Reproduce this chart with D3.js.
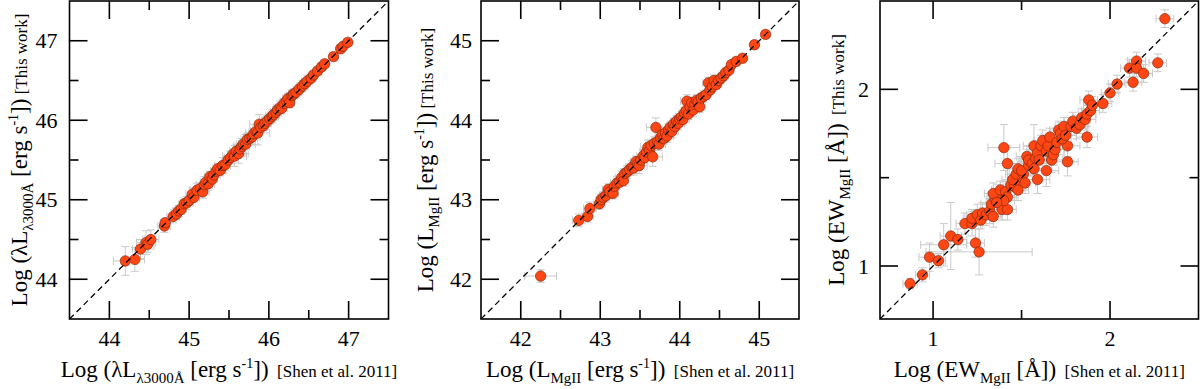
<!DOCTYPE html>
<meta charset="utf-8">
<title>Shen et al. 2011 vs this work</title>
<script src="https://d3js.org/d3.v7.min.js"></script>
<style>
  body { margin: 0; background: #fff; }
  text { font-family: "Liberation Serif", "DejaVu Serif", serif; fill: #000; white-space: pre; }
</style>
<body>
<div id="chart"></div>
<script>

// [x (Shen et al. 2011), y (this work), x error, y error]
var lum3000Points = [
  [44.20,44.23,0.15,0.18],[44.32,44.25,0.12,0.15],[44.39,44.38,0.10,0.12],[44.46,44.46,0.12,0.15],
  [44.48,44.44,0.08,0.10],[44.52,44.50,0.10,0.12],[44.69,44.67,0.08,0.08],[44.70,44.71,0.06,0.06],
  [44.80,44.79,0.08,0.08],[44.84,44.82,0.06,0.07],[44.87,44.86,0.07,0.07],[44.90,44.88,0.06,0.06],
  [44.94,44.95,0.07,0.07],[44.97,44.96,0.08,0.08],[45.00,44.99,0.06,0.06],[45.04,45.07,0.08,0.08],
  [45.06,45.03,0.07,0.06],[45.10,45.12,0.09,0.09],[45.14,45.14,0.07,0.07],[45.17,45.10,0.08,0.08],
  [45.19,45.19,0.10,0.10],[45.21,45.22,0.07,0.07],[45.24,45.20,0.08,0.08],[45.26,45.29,0.07,0.07],
  [45.29,45.26,0.06,0.06],[45.31,45.31,0.08,0.08],[45.34,45.36,0.07,0.07],[45.36,45.39,0.06,0.06],
  [45.39,45.37,0.07,0.07],[45.42,45.43,0.10,0.10],[45.45,45.44,0.07,0.07],[45.49,45.50,0.06,0.06],
  [45.52,45.53,0.08,0.08],[45.55,45.57,0.07,0.07],[45.57,45.55,0.15,0.13],[45.59,45.61,0.08,0.08],
  [45.62,45.58,0.12,0.12],[45.64,45.64,0.07,0.07],[45.66,45.67,0.10,0.10],[45.68,45.70,0.06,0.06],
  [45.71,45.70,0.12,0.12],[45.73,45.76,0.08,0.08],[45.76,45.77,0.07,0.07],[45.79,45.79,0.10,0.10],
  [45.81,45.83,0.06,0.06],[45.84,45.86,0.07,0.07],[45.86,45.84,0.15,0.15],[45.88,45.95,0.12,0.12],
  [45.90,45.91,0.07,0.07],[45.93,45.93,0.06,0.06],[45.95,45.96,0.08,0.08],[45.98,45.99,0.07,0.07],
  [46.01,46.02,0.06,0.06],[46.04,46.05,0.08,0.08],[46.06,46.07,0.07,0.07],[46.09,46.10,0.07,0.07],
  [46.11,46.13,0.06,0.06],[46.14,46.16,0.08,0.08],[46.16,46.15,0.07,0.07],[46.19,46.21,0.06,0.06],
  [46.22,46.24,0.08,0.08],[46.24,46.27,0.07,0.07],[46.26,46.22,0.06,0.06],[46.29,46.31,0.07,0.07],
  [46.31,46.33,0.06,0.06],[46.34,46.35,0.07,0.07],[46.38,46.39,0.06,0.06],[46.42,46.43,0.07,0.07],
  [46.45,46.46,0.06,0.06],[46.48,46.49,0.07,0.07],[46.53,46.53,0.06,0.06],[46.56,46.57,0.05,0.05],
  [46.61,46.62,0.05,0.05],[46.66,46.67,0.05,0.05],[46.70,46.71,0.05,0.05],[46.81,46.80,0.05,0.05],
  [46.90,46.90,0.05,0.05],[46.93,46.93,0.04,0.04],[46.99,46.98,0.05,0.05]
];

var lumMgIIPoints = [
  [42.25,42.04,0.20,0.08],[42.73,42.74,0.08,0.08],[42.84,42.79,0.07,0.07],[42.87,42.89,0.08,0.08],
  [42.99,42.95,0.07,0.07],[43.01,43.00,0.06,0.06],[43.04,43.03,0.07,0.07],[43.07,43.05,0.08,0.08],
  [43.10,43.13,0.07,0.07],[43.12,43.10,0.08,0.08],[43.16,43.08,0.07,0.07],[43.18,43.17,0.06,0.06],
  [43.21,43.21,0.08,0.08],[43.24,43.22,0.07,0.07],[43.27,43.28,0.08,0.08],[43.29,43.24,0.07,0.07],
  [43.31,43.33,0.06,0.06],[43.34,43.35,0.08,0.08],[43.37,43.38,0.07,0.07],[43.40,43.41,0.08,0.08],
  [43.42,43.40,0.09,0.09],[43.45,43.48,0.07,0.07],[43.47,43.45,0.08,0.08],[43.49,43.43,0.10,0.10],
  [43.51,43.50,0.07,0.07],[43.54,43.55,0.08,0.08],[43.56,43.53,0.07,0.07],[43.58,43.60,0.08,0.08],
  [43.60,43.66,0.09,0.09],[43.62,43.62,0.07,0.07],[43.64,43.68,0.07,0.07],[43.66,43.54,0.12,0.12],
  [43.68,43.71,0.08,0.08],[43.70,43.91,0.12,0.12],[43.72,43.73,0.07,0.07],[43.74,43.70,0.08,0.08],
  [43.76,43.78,0.07,0.07],[43.78,43.82,0.08,0.08],[43.80,43.77,0.07,0.07],[43.82,43.84,0.06,0.06],
  [43.84,43.80,0.08,0.08],[43.86,43.88,0.07,0.07],[43.88,43.91,0.06,0.06],[43.90,43.86,0.08,0.08],
  [43.92,43.95,0.07,0.07],[43.94,43.92,0.06,0.06],[43.96,43.99,0.07,0.07],[43.98,43.96,0.08,0.08],
  [44.00,44.02,0.06,0.06],[44.02,44.04,0.07,0.07],[44.04,44.01,0.08,0.08],[44.06,44.09,0.07,0.07],
  [44.08,44.12,0.06,0.06],[44.09,44.24,0.08,0.08],[44.11,44.08,0.07,0.07],[44.13,44.17,0.06,0.06],
  [44.15,44.22,0.07,0.07],[44.17,44.13,0.08,0.08],[44.19,44.20,0.06,0.06],[44.21,44.25,0.07,0.07],
  [44.23,44.23,0.06,0.06],[44.25,44.17,0.07,0.07],[44.27,44.28,0.06,0.06],[44.30,44.30,0.07,0.07],
  [44.33,44.32,0.06,0.06],[44.36,44.47,0.07,0.07],[44.38,44.38,0.06,0.06],[44.41,44.42,0.06,0.06],
  [44.43,44.50,0.07,0.07],[44.46,44.45,0.06,0.06],[44.49,44.50,0.06,0.06],[44.52,44.53,0.06,0.06],
  [44.55,44.56,0.06,0.06],[44.58,44.60,0.06,0.06],[44.62,44.63,0.05,0.05],[44.65,44.70,0.05,0.05],
  [44.71,44.74,0.05,0.05],[44.79,44.78,0.05,0.05],[44.94,44.95,0.05,0.05],[45.08,45.08,0.05,0.05]
];

var ewMgIIPoints = [
  [0.87,0.90,0.04,0.03],[0.94,0.95,0.04,0.04],[0.98,1.05,0.06,0.08],[1.03,1.03,0.04,0.04],
  [1.06,1.12,0.13,0.12],[1.10,1.17,0.06,0.19],[1.14,1.15,0.05,0.06],[1.18,1.24,0.05,0.06],
  [1.22,1.24,0.06,0.07],[1.24,1.13,0.05,0.08],[1.26,1.08,0.30,0.13],[1.22,1.27,0.05,0.05],
  [1.25,1.29,0.06,0.06],[1.27,1.26,0.05,0.05],[1.28,1.30,0.05,0.06],[1.30,1.29,0.08,0.06],
  [1.32,1.31,0.06,0.07],[1.34,1.28,0.05,0.06],[1.39,1.32,0.06,0.06],[1.42,1.32,0.05,0.06],
  [1.33,1.35,0.06,0.06],[1.35,1.38,0.05,0.05],[1.37,1.40,0.06,0.06],[1.34,1.41,0.05,0.06],
  [1.38,1.43,0.05,0.05],[1.41,1.42,0.06,0.06],[1.42,1.39,0.05,0.06],[1.40,1.37,0.06,0.07],
  [1.36,1.36,0.05,0.05],[1.44,1.46,0.06,0.06],[1.46,1.45,0.06,0.06],[1.48,1.47,0.05,0.05],
  [1.48,1.43,0.06,0.06],[1.45,1.49,0.06,0.06],[1.47,1.52,0.06,0.06],[1.48,1.55,0.05,0.06],
  [1.51,1.52,0.06,0.07],[1.52,1.47,0.06,0.06],[1.50,1.54,0.05,0.05],[1.53,1.62,0.06,0.06],
  [1.54,1.57,0.06,0.06],[1.54,1.60,0.05,0.06],[1.56,1.58,0.06,0.07],[1.57,1.55,0.06,0.06],
  [1.59,1.49,0.07,0.08],[1.58,1.61,0.06,0.06],[1.57,1.68,0.06,0.12],[1.59,1.64,0.05,0.06],
  [1.60,1.60,0.06,0.06],[1.61,1.68,0.06,0.06],[1.62,1.71,0.05,0.06],[1.64,1.65,0.06,0.07],
  [1.64,1.54,0.07,0.09],[1.65,1.68,0.05,0.06],[1.66,1.73,0.05,0.05],[1.67,1.60,0.06,0.07],
  [1.68,1.63,0.06,0.06],[1.69,1.66,0.05,0.05],[1.70,1.70,0.06,0.06],[1.71,1.77,0.05,0.05],
  [1.72,1.75,0.06,0.06],[1.40,1.67,0.09,0.13],[1.42,1.58,0.07,0.10],[1.76,1.68,0.07,0.06],
  [1.76,1.59,0.06,0.08],[1.73,1.72,0.05,0.06],[1.74,1.79,0.05,0.05],[1.75,1.74,0.06,0.06],
  [1.78,1.79,0.06,0.05],[1.79,1.82,0.05,0.05],[1.81,1.78,0.06,0.06],[1.83,1.80,0.05,0.05],
  [1.84,1.84,0.05,0.05],[1.86,1.83,0.06,0.06],[1.87,1.86,0.05,0.05],[1.87,1.73,0.06,0.06],
  [1.88,1.94,0.05,0.05],[1.89,1.88,0.05,0.05],[1.90,1.91,0.05,0.05],[1.96,1.92,0.05,0.05],
  [2.00,1.98,0.05,0.05],[2.04,2.03,0.05,0.05],[2.11,2.12,0.05,0.05],[2.13,2.04,0.05,0.05],
  [2.15,2.16,0.05,0.05],[2.15,2.12,0.05,0.05],[2.19,2.09,0.05,0.05],[2.27,2.15,0.05,0.05],
  [2.31,2.40,0.05,0.05]
];

var lum3000Ticks = [44, 45, 46, 47],  lum3000Minor = [44.5, 45.5, 46.5];
var lumMgIITicks = [42, 43, 44, 45],  lumMgIIMinor = [42.5, 43.5, 44.5];
var ewMgIITicks  = [1, 2],            ewMgIIMinor  = [1.5];

// title pieces: [text, font size, vertical shift]
var lum3000Title = [["Log (λL",23,0],["λ3000Å",15,6],[" [erg s",23,0],["-1",14,-9],["])",23,0]];
var lumMgIITitle = [["Log (L",23,0],["MgII",15,6],[" [erg s",23,0],["-1",14,-9],["])",23,0]];
var ewMgIITitle  = [["Log (EW",23,0],["MgII",15,6],[" [Å])",23,0]];

var panels = [
  {pts: lum3000Points, dom: [43.5, 47.5], ticks: lum3000Ticks, minor: lum3000Minor, title: lum3000Title,
   left: 69.5, right: 388.5, ytitleX: 27, ylabelGap: 12, ynote: " [This work]"},
  {pts: lumMgIIPoints, dom: [41.5, 45.5], ticks: lumMgIITicks, minor: lumMgIIMinor, title: lumMgIITitle,
   left: 481, right: 799, ytitleX: 433, ylabelGap: 9, ynote: " [This work]"},
  {pts: ewMgIIPoints, dom: [0.7, 2.5], ticks: ewMgIITicks, minor: ewMgIIMinor, title: ewMgIITitle,
   left: 880, right: 1198.5, ytitleX: 844, ylabelGap: 11, ynote: "  [This work]"}
];

var plotTop = 1, plotBottom = 319;

var svg = d3.select("#chart").append("svg")
    .attr("width", 1200)
    .attr("height", 389);

function addTitle(g, pieces, note, attrs) {
  var t = g.append("text").attr("text-anchor", "middle");
  for (var k in attrs) t.attr(k, attrs[k]);
  var shift = 0;
  pieces.forEach(function(p) {
    t.append("tspan").text(p[0]).attr("font-size", p[1]).attr("dy", p[2] - shift);
    shift = p[2];
  });
  t.append("tspan").text(note).attr("font-size", 17).attr("dy", -shift);
  return t;
}

panels.forEach(function(p, i) {
  var x = d3.scaleLinear().domain(p.dom).range([p.left, p.right]);
  var y = d3.scaleLinear().domain(p.dom).range([plotBottom, plotTop]);
  var g = svg.append("g");

  g.append("clipPath").attr("id", "clip" + i)
    .append("rect")
      .attr("x", p.left).attr("y", plotTop)
      .attr("width", p.right - p.left).attr("height", plotBottom - plotTop);

  var plot = g.append("g").attr("clip-path", "url(#clip" + i + ")");

  // error bars
  var eb = plot.append("g").attr("stroke", "#c9c9c9").attr("stroke-width", 1).attr("fill", "none");
  p.pts.forEach(function(d) {
    var cx = x(d[0]), cy = y(d[1]);
    var x0 = x(d[0] - d[2]), x1 = x(d[0] + d[2]);
    var y0 = y(d[1] - d[3]), y1 = y(d[1] + d[3]);
    eb.append("path").attr("d",
      "M" + x0 + "," + cy + "H" + x1 +
      "M" + x0 + "," + (cy - 4) + "V" + (cy + 4) +
      "M" + x1 + "," + (cy - 4) + "V" + (cy + 4) +
      "M" + cx + "," + y0 + "V" + y1 +
      "M" + (cx - 4) + "," + y0 + "H" + (cx + 4) +
      "M" + (cx - 4) + "," + y1 + "H" + (cx + 4));
  });

  plot.selectAll("circle.pt")
    .data(p.pts)
    .enter()
    .append("circle")
      .attr("class", "pt")
      .attr("cx", function(d) { return x(d[0]); })
      .attr("cy", function(d) { return y(d[1]); })
      .attr("r", 5.2)
      .attr("fill", "#ff4613")
      .attr("stroke", "#8a2a10")
      .attr("stroke-width", 0.7);

  // one-to-one line
  plot.append("line")
    .attr("x1", x(p.dom[0])).attr("y1", y(p.dom[0]))
    .attr("x2", x(p.dom[1])).attr("y2", y(p.dom[1]))
    .attr("stroke", "#000").attr("stroke-width", 1.3)
    .attr("stroke-dasharray", "6,4");

  // ticks on all four sides
  var tk = g.append("g").attr("stroke", "#000").attr("stroke-width", 1.6);
  function ticks(vals, len) {
    vals.forEach(function(v) {
      tk.append("line").attr("x1", x(v)).attr("x2", x(v)).attr("y1", plotBottom).attr("y2", plotBottom - len);
      tk.append("line").attr("x1", x(v)).attr("x2", x(v)).attr("y1", plotTop).attr("y2", plotTop + len);
      tk.append("line").attr("y1", y(v)).attr("y2", y(v)).attr("x1", p.left).attr("x2", p.left + len);
      tk.append("line").attr("y1", y(v)).attr("y2", y(v)).attr("x1", p.right).attr("x2", p.right - len);
    });
  }
  ticks(p.ticks, 18);
  ticks(p.minor, 9);

  g.append("rect")
    .attr("x", p.left).attr("y", plotTop)
    .attr("width", p.right - p.left).attr("height", plotBottom - plotTop)
    .attr("fill", "none").attr("stroke", "#000").attr("stroke-width", 1.6);

  // tick labels
  g.selectAll("text.xt").data(p.ticks).enter().append("text")
    .attr("class", "xt")
    .attr("x", function(d) { return x(d); })
    .attr("y", 346)
    .attr("text-anchor", "middle")
    .attr("font-size", 22)
    .text(function(d) { return d; });

  g.selectAll("text.yt").data(p.ticks).enter().append("text")
    .attr("class", "yt")
    .attr("x", p.left - p.ylabelGap)
    .attr("y", function(d) { return y(d); })
    .attr("dy", "0.35em")
    .attr("text-anchor", "end")
    .attr("font-size", 22)
    .text(function(d) { return d; });

  var cx = (p.left + p.right) / 2, cy = (plotTop + plotBottom) / 2;
  addTitle(g, p.title, "  [Shen et al. 2011]", {x: cx, y: 377});
  addTitle(g, p.title, p.ynote, {transform: "translate(" + p.ytitleX + "," + cy + ") rotate(-90)"});
});

</script>
